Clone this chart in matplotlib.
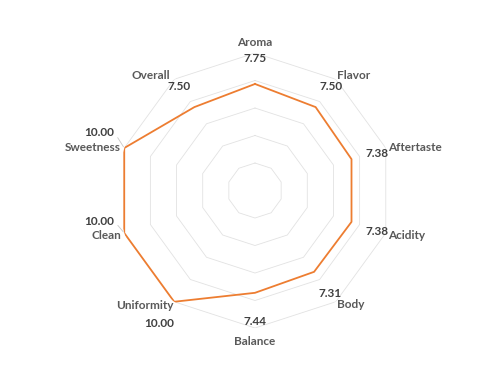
import numpy as np
import matplotlib.pyplot as plt

categories = ["Aroma", "Flavor", "Aftertaste", "Acidity", "Body",
              "Balance", "Uniformity", "Clean", "Sweetness", "Overall"]
scores = [7.75, 7.50, 7.38, 7.38, 7.31, 7.44, 10.00, 10.00, 10.00, 7.50]
rings = [2, 4, 6, 8, 10]

# label offsets in pixels from the outer vertex (dx, dy)
cat_off = [(0, 11), (18, 4), (29, 1), (21, -2), (15, -3),
           (0, -13), (-29, -4), (-18, -2), (-31, 1), (-23, 4)]
val_off = [(0, -5), (-5, -7), (-9, -5), (-9, 2), (-6, 8),
           (0, 7), (-15, -22), (-25, 12), (-25, 16), (5, -7)]
leaders = ["Clean", "Sweetness"]

plt.rcParams['font.family'] = ['Lato', 'DejaVu Sans']

n = len(categories)
theta = np.linspace(0, 2 * np.pi, n, endpoint=False)
th_closed = np.append(theta, theta[0])

fig = plt.figure(figsize=(5, 3.75), dpi=100)
ax = fig.add_axes([0.235, 0.1253, 0.55, 0.7333], projection='polar')
ax.set_theta_offset(np.pi / 2)
ax.set_theta_direction(-1)
ax.set_ylim(0, 10)
ax.grid(False)
ax.set_xticks([])
ax.set_yticks([])
ax.spines['polar'].set_visible(False)

for r in rings:
    ax.plot(th_closed, [r] * (n + 1), color='#e2e2e2', lw=0.6, zorder=1)

ax.plot(th_closed, scores + scores[:1], color='#ED7D31', lw=1.3, zorder=3)

for i, (t, name, v) in enumerate(zip(theta, categories, scores)):
    ax.annotate(name, xy=(t, 10), xytext=cat_off[i], textcoords='offset pixels',
                ha='center', va='center', fontsize=8.5, fontweight='bold',
                color='#595959', annotation_clip=False)
    if name in leaders:
        ax.annotate(f"{v:.2f}", xy=(t, v), xytext=val_off[i], textcoords='offset pixels',
                    ha='center', va='center', fontsize=8.5, fontweight='bold',
                    color='#404040', annotation_clip=False,
                    arrowprops=dict(arrowstyle='-', color='#c8c8c8', lw=0.6,
                                    relpos=(1, 0.5), shrinkA=1, shrinkB=1))
    else:
        ax.annotate(f"{v:.2f}", xy=(t, 10), xytext=val_off[i], textcoords='offset pixels',
                    ha='center', va='center', fontsize=8.5, fontweight='bold',
                    color='#404040', annotation_clip=False)

fig.savefig("out.png", dpi=100)
